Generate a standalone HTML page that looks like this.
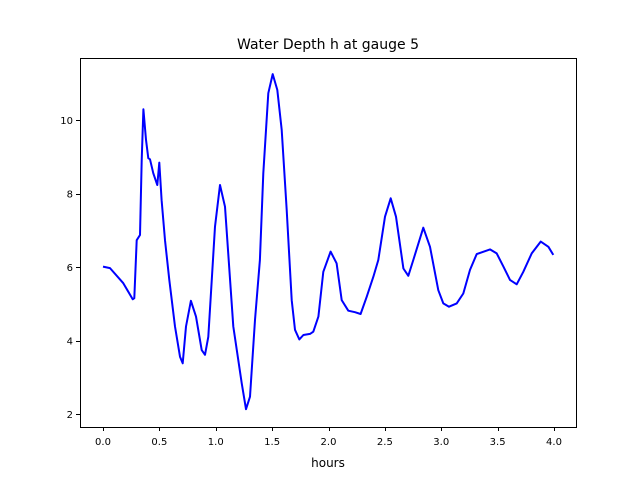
<!DOCTYPE html>
<html><head><meta charset="utf-8"><style>
body{margin:0;background:#fff;}
svg{display:block;font-family:"DejaVu Sans","Liberation Sans",sans-serif;}
</style></head><body>
<svg id="chart" width="640" height="480">
<rect width="640" height="480" fill="#fff"/>
<text x="328" y="49" text-anchor="middle" font-size="14" fill="#000">Water Depth h at gauge 5</text>
<text x="328" y="467" text-anchor="middle" font-size="12" fill="#000">hours</text>
<g id="ticks"></g>
<polyline id="line" fill="none" stroke="#0000ff" stroke-width="2" stroke-linejoin="round"/>
<rect x="80.5" y="58.5" width="496" height="369" fill="none" stroke="#000" stroke-width="1"/>
</svg>
<script>
const hours=[0,0.062,0.18,0.263,0.278,0.299,0.328,0.343,0.358,0.381,0.402,0.417,0.446,0.482,0.499,0.52,0.55,0.588,0.639,0.683,0.707,0.736,0.78,0.825,0.875,0.905,0.934,0.993,1.038,1.082,1.156,1.23,1.268,1.304,1.348,1.392,1.422,1.466,1.505,1.546,1.585,1.629,1.674,1.703,1.741,1.777,1.836,1.865,1.91,1.954,2.019,2.072,2.117,2.176,2.235,2.285,2.339,2.398,2.442,2.501,2.552,2.599,2.664,2.708,2.752,2.841,2.9,2.974,3.018,3.069,3.137,3.196,3.255,3.314,3.432,3.492,3.551,3.61,3.669,3.728,3.802,3.882,3.95,3.994];
const depth=[6.01,5.97,5.56,5.12,5.15,6.73,6.87,8.91,10.29,9.46,8.96,8.93,8.55,8.23,8.84,7.82,6.73,5.65,4.38,3.56,3.38,4.38,5.08,4.65,3.74,3.61,4.1,7.1,8.23,7.64,4.38,2.84,2.13,2.47,4.56,6.19,8.55,10.73,11.25,10.82,9.73,7.55,5.1,4.29,4.03,4.15,4.18,4.24,4.65,5.87,6.42,6.1,5.1,4.81,4.77,4.72,5.19,5.74,6.19,7.37,7.87,7.37,5.96,5.76,6.19,7.07,6.55,5.37,5.01,4.92,5.01,5.28,5.92,6.35,6.48,6.37,6.01,5.65,5.53,5.87,6.37,6.69,6.55,6.33];
const xTicks=[0,0.5,1,1.5,2,2.5,3,3.5,4];
const xTickLabels=["0.0","0.5","1.0","1.5","2.0","2.5","3.0","3.5","4.0"];
const yTicks=[2,4,6,8,10];
const yTickLabels=["2","4","6","8","10"];
const xs=v=>103+v*112.75;
const ys=v=>414-(v-2)*36.75;
const NS="http://www.w3.org/2000/svg";
const g=document.getElementById('ticks');
xTicks.forEach((t,i)=>{
 const x=Math.round(xs(t))+0.5;
 const l=document.createElementNS(NS,'line');
 l.setAttribute('x1',x);l.setAttribute('x2',x);l.setAttribute('y1',427);l.setAttribute('y2',431);l.setAttribute('stroke','#000');
 
 
 g.appendChild(l);
 const tx=document.createElementNS(NS,'text');
 tx.setAttribute('x',xs(t));tx.setAttribute('y',445);tx.setAttribute('text-anchor','middle');tx.setAttribute('font-size','10');
 tx.textContent=xTickLabels[i];
 
 
 g.appendChild(tx);
});
yTicks.forEach((t,i)=>{
 const y=Math.round(ys(t))+0.5;
 const l=document.createElementNS(NS,'line');
 l.setAttribute('x1',76);l.setAttribute('x2',80);l.setAttribute('y1',y);l.setAttribute('y2',y);l.setAttribute('stroke','#000');
 
 
 g.appendChild(l);
 const tx=document.createElementNS(NS,'text');
 tx.setAttribute('x',73);tx.setAttribute('y',ys(t)+4);tx.setAttribute('text-anchor','end');tx.setAttribute('font-size','10');
 tx.textContent=yTickLabels[i];
 
 
 g.appendChild(tx);
});
document.getElementById('line').setAttribute('points',hours.map((h,i)=>xs(h).toFixed(1)+','+ys(depth[i]).toFixed(1)).join(' '));
</script>
</body></html>
